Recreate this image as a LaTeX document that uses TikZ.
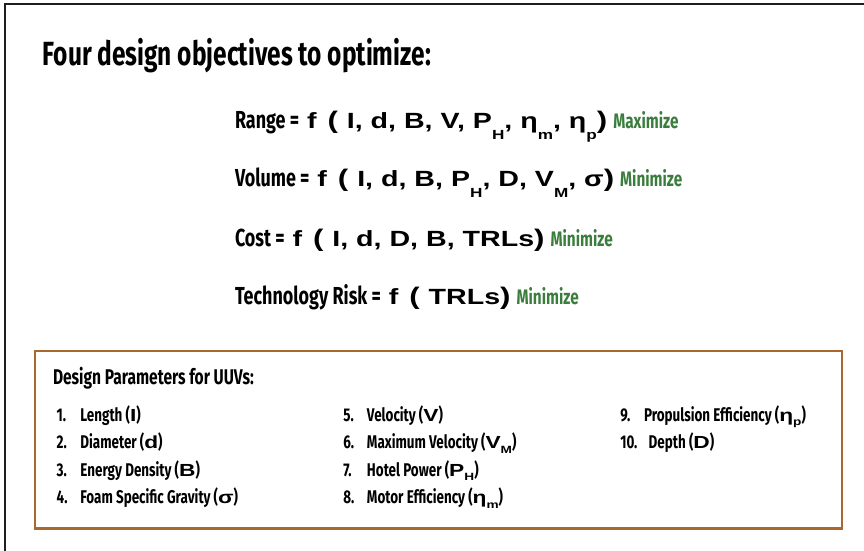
\documentclass[tikz,border=0pt]{standalone}
\usepackage{fontspec}
\usepackage{graphicx}
\newfontfamily\cond[FakeStretch=0.73]{Fira Sans}
\newfontfamily\arl[FakeStretch=1.3]{Liberation Sans}
\definecolor{grn}{RGB}{58,125,60}
\definecolor{brn}{RGB}{168,104,48}
\definecolor{frm}{RGB}{30,30,30}
\newcommand\sbx[1]{\raisebox{-0.5em}{\scalebox{0.6}{#1}}}
\newcommand\sbi[1]{\raisebox{-0.28em}{\scalebox{0.6}{#1}}}
\newcommand\cdf[2]{{\cond\bfseries\fontsize{#1}{#1}\selectfont #2}}
\newcommand\arf[2]{{\arl\bfseries\fontsize{#1}{#1}\selectfont #2}}
\newcommand\itm[2]{\makebox[23.7pt][l]{#1}#2}
\newcommand\opn{\hspace{3pt}\arf{24}{(}\ \hspace{1pt}}
\tikzset{
  txt/.style={anchor=base west, inner sep=0pt, outer sep=0pt},
  objline/.style={txt},
  itemline/.style={txt, font=\cond\bfseries\fontsize{18.4}{20}\selectfont},
}
\begin{document}
\begin{tikzpicture}[x=1pt,y=-1pt]
\useasboundingbox (0,0) rectangle (864,551);
% outer frame
\draw[frm, line width=2pt] (5,551) -- (5,3.7) -- (864,3.7);
% title
\node[txt] (title) at (42.7,66) {\cdf{33.5}{Four design objectives to optimize:}};
% objective lines
\node[objline] (range) at (235,128) {\cdf{24.6}{Range =}\arf{22}{ f \opn I, d, B, V, P\sbx{H}, η\sbx{m}, η\sbx{p}\arf{24}{)}}\hspace{6pt}\cdf{21}{\color{grn}Maximize}};
\node[objline] (volume) at (235,186) {\cdf{24.6}{Volume =}\arf{22}{ f \opn I, d, B, P\sbx{H}, D, V\sbx{M}, σ\arf{24}{)}}\hspace{6pt}\cdf{21}{\color{grn}Minimize}};
\node[objline] (cost) at (235,246) {\cdf{24.6}{Cost =}\arf{22}{ f \opn I, d, D, B, TRLs\arf{24}{)}}\hspace{6pt}\cdf{21}{\color{grn}Minimize}};
\node[objline] (risk) at (235,304) {\cdf{24.6}{Technology Risk =}\arf{22}{ f \opn TRLs\arf{24}{)}}\hspace{6pt}\cdf{21}{\color{grn}Minimize}};
% parameter box
\draw[brn, line width=2.4pt] (35,351) rectangle (842,528.3);
\node[txt] (head) at (53,384.3) {\cdf{21.3}{Design Parameters for UUVs:}};
% column 1
\node[itemline] (i1) at (56.7,421)   {\itm{1.}{Length (\arf{17.5}{I})}};
\node[itemline] (i2) at (56.7,448.5) {\itm{2.}{Diameter (\arf{17.5}{d})}};
\node[itemline] (i3) at (56.7,476)   {\itm{3.}{Energy Density (\arf{17.5}{B})}};
\node[itemline] (i4) at (56.7,503.5) {\itm{4.}{Foam Specific Gravity (\arf{17.5}{σ})}};
% column 2
\node[itemline] (i5) at (343.3,421)   {\itm{5.}{Velocity (\arf{17.5}{V})}};
\node[itemline] (i6) at (343.3,448.5) {\itm{6.}{Maximum Velocity (\arf{17.5}{V\sbi{M}})}};
\node[itemline] (i7) at (343.3,476)   {\itm{7.}{Hotel Power (\arf{17.5}{P\sbi{H}})}};
\node[itemline] (i8) at (343.3,503.5) {\itm{8.}{Motor Efficiency (\arf{17.5}{η\sbi{m}})}};
% column 3
\node[itemline] (i9) at (620.3,421)   {\itm{9.}{Propulsion Efficiency (\arf{17.5}{η\sbi{p}})}};
\node[itemline] (i10) at (620.3,448.5) {\makebox[28.4pt][l]{10.}Depth (\arf{17.5}{D})};
\end{tikzpicture}
\end{document}
